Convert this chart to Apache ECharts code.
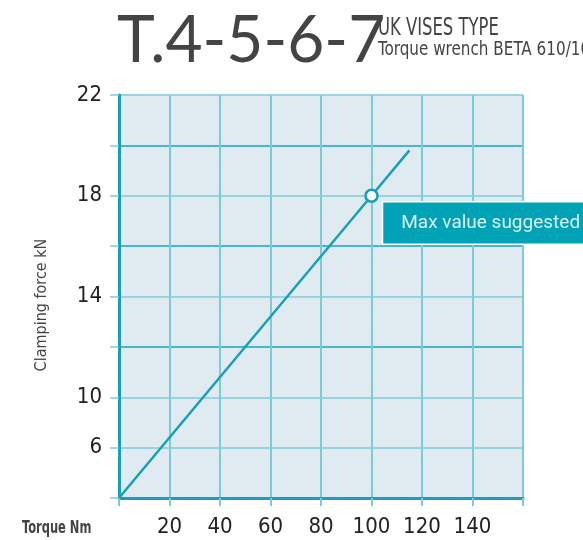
<!DOCTYPE html>
<html>
<head>
<meta charset="utf-8">
<script src="https://cdn.jsdelivr.net/npm/echarts@6/dist/echarts.min.js"></script>
<style>
    html, body { margin: 0; padding: 0; background: #fff; }
    #chart { width: 583px; height: 540px; }
</style>
</head>
<body>
<div id="chart"></div>
<script>
    // torque (Nm) -> clamping force
    const torque = [0, 100, 115];
    const force = [6, 18, 19.8];
    const markIndex = 1;

    // the y scale of the original is labelled oddly: "6" sits on the 8 line
    const yTickValues = [22, 18, 14, 10, 8];
    const yTickLabels = ['22', '18', '14', '10', '6'];
    const xTickLabels = ['20', '40', '60', '80', '100', '120', '140'];

    const narrow = '"DejaVu Sans Condensed", "DejaVu Sans", sans-serif';
    const light = '#7ccbd8';
    const dark = '#14a6be';

    const chart = echarts.init(document.getElementById('chart'));

    chart.setOption({
        animation: false,
        grid: {
            left: 119, right: 60, top: 95, bottom: 42,
            show: true,
            backgroundColor: '#dfebf1',
            borderWidth: 0
        },
        xAxis: {
            type: 'value',
            min: 0, max: 160, interval: 20,
            axisLine: { lineStyle: { color: '#17a0b7', width: 3 } },
            axisTick: { show: true, length: 8, lineStyle: { color: light, width: 2 } },
            axisLabel: {
                margin: 18,
                fontFamily: narrow, fontSize: 22, color: '#222',
                formatter: v => xTickLabels.indexOf(String(v)) > -1 ? String(v) : ''
            },
            splitLine: { show: true, lineStyle: { color: light, width: 2 } }
        },
        yAxis: {
            type: 'value',
            min: 6, max: 22, interval: 2,
            axisLine: { show: true, lineStyle: { color: '#17a0b7', width: 3 } },
            axisTick: { show: true, length: 9, lineStyle: { color: light, width: 1.5 } },
            axisLabel: {
                margin: 17,
                fontFamily: narrow, fontSize: 22, color: '#222',
                formatter: v => {
                    let i = yTickValues.indexOf(v);
                    return i > -1 ? yTickLabels[i] : '';
                }
            },
            splitLine: {
                show: true,
                lineStyle: {
                    color: [light, light, light, dark, light, dark, light, dark, light],
                    width: 1.5
                }
            }
        },
        graphic: [
            {
                type: 'text', x: 378, y: 16, scaleX: 0.73, z: 10,
                style: { text: 'UK VISES TYPE', fontFamily: narrow, fontSize: 25, fill: '#444' }
            },
            {
                type: 'text', x: 378, y: 41, scaleX: 0.89, z: 10,
                style: { text: 'Torque wrench BETA 610/10X', fontFamily: narrow, fontSize: 19, fill: '#444' }
            },
            {
                type: 'text', x: 117, y: 8, scaleX: 0.97, z: 20,
                style: { text: 'T.4-5-6-7', fontFamily: 'Lato, sans-serif', fontSize: 66, fill: '#444' }
            },
            {
                type: 'text', x: 42, y: 305, rotation: Math.PI / 2,
                style: {
                    text: 'Clamping force kN', fontFamily: narrow, fontSize: 16, fill: '#444',
                    align: 'center', verticalAlign: 'middle'
                }
            },
            {
                type: 'text', x: 22, y: 520, scaleX: 0.75,
                style: { text: 'Torque Nm', fontFamily: narrow, fontSize: 17, fontWeight: 'bold', fill: '#444' }
            }
        ],
        series: [{
            type: 'line',
            data: torque.map((t, i) => {
                let d = { value: [t, force[i]], symbol: 'none' };
                if (i === markIndex) {
                    d.symbol = 'circle';
                    d.label = {
                        show: true,
                        formatter: 'Max value suggested',
                        position: [19, 14],
                        align: 'left',
                        verticalAlign: 'top',
                        fontFamily: 'Roboto, sans-serif',
                        fontSize: 19,
                        color: '#d9f0f3',
                        backgroundColor: '#00a3b5',
                        borderColor: '#fff',
                        borderWidth: 1.5,
                        padding: [11, 12, 11, 18]
                    };
                }
                return d;
            }),
            symbolSize: 12,
            lineStyle: { color: '#17a0b7', width: 2.5 },
            itemStyle: { color: '#fff', borderColor: '#17a0b7', borderWidth: 2.5 },
            z: 5
        }]
    });
</script>
</body>
</html>
